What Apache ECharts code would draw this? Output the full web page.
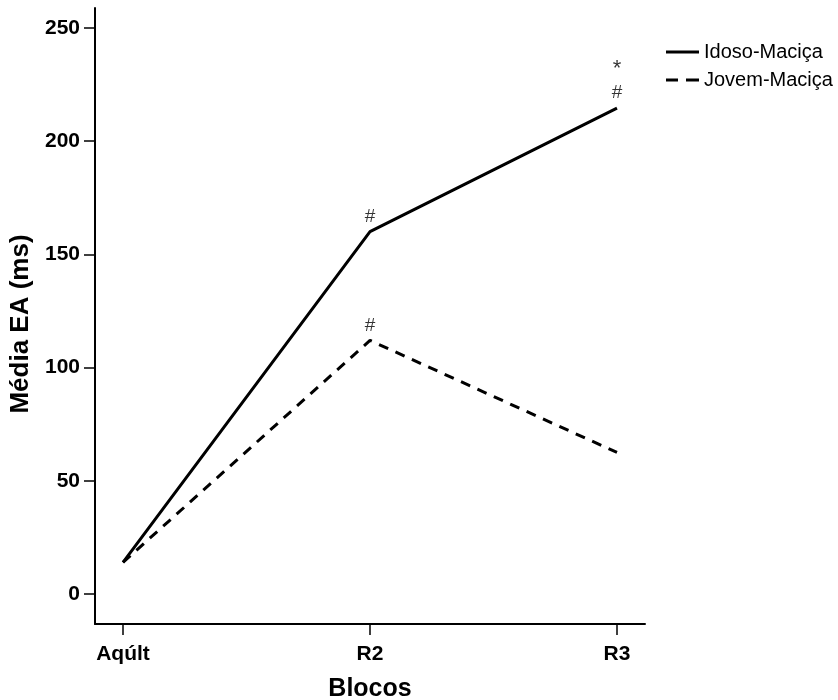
<!DOCTYPE html>
<html><head><meta charset="utf-8">
<script src="https://cdn.jsdelivr.net/npm/echarts@6/dist/echarts.min.js"></script>
<style>html,body{margin:0;padding:0;background:#fff}#c{width:838px;height:700px}</style>
</head><body><div id="c"></div>
<script>
var categories = ['Aqúlt', 'R2', 'R3'];
var seriesNames = ['Idoso-Maciça', 'Jovem-Maciça'];
var idoso = [14, 160, 214.6];
var jovem = [14, 112, 62.5];
// significance marks stacked above each point (bottom to top)
var idosoMarks = [[], ['#'], ['#', '*']];
var jovemMarks = [[], ['#'], []];
var yTicks = [0, 50, 100, 150, 200, 250];
var xTicks = [0, 1, 2];

function pts(vals) {
  return vals.map(function (v, i) { return [i, v]; });
}
function marks(vals, mk) {
  var out = [];
  vals.forEach(function (v, i) {
    mk[i].forEach(function (t, k) {
      out.push({
        value: [i, v],
        label: { show: true, position: 'inside', formatter: t,
          fontSize: t === '*' ? 22 : 19,
          offset: [0, -(15 + 28 * k) + (t === '*' ? 4 : 0)] }
      });
    });
  });
  return out;
}

var font = 'Liberation Sans, Arial, sans-serif';
var chart = echarts.init(document.getElementById('c'));
chart.setOption({
  animation: false,
  backgroundColor: '#fff',
  textStyle: { fontFamily: font },
  legend: {
    orient: 'vertical', left: 661, top: 37, itemWidth: 33, itemHeight: 3, itemGap: 8,
    textStyle: { fontSize: 20, color: '#000', fontFamily: font },
    itemStyle: { color: '#000' },
    data: [
      { name: seriesNames[0], icon: 'path://M0,0L33,0L33,3L0,3Z' },
      { name: seriesNames[1], icon: 'path://M0,0L12,0L12,3L0,3Z M20,0L33,0L33,3L20,3Z' }
    ]
  },
  grid: { left: 95, top: 8, right: 193, bottom: 76, containLabel: false, outerBoundsMode: 'none' },
  xAxis: {
    type: 'value', min: -0.1134, max: 2.1134,
    splitLine: { show: false },
    axisLine: { show: true, onZero: false, lineStyle: { color: '#000', width: 2 } },
    axisTick: { show: true, customValues: xTicks, length: 11, lineStyle: { color: '#000', width: 1.5 } },
    axisLabel: { show: true, customValues: xTicks, margin: 20, fontSize: 21, fontWeight: 'bold', color: '#000', fontFamily: font,
      formatter: function (v) { return categories[Math.round(v)] || ''; } },
    name: 'Blocos', nameLocation: 'middle', nameGap: 53,
    nameTextStyle: { fontSize: 25, fontWeight: 'bold', color: '#000', fontFamily: font }
  },
  yAxis: {
    type: 'value', min: -13.25, max: 258.8,
    splitLine: { show: false },
    axisLine: { show: true, onZero: false, lineStyle: { color: '#000', width: 2 } },
    axisTick: { show: true, customValues: yTicks, length: 11, lineStyle: { color: '#000', width: 1.5 } },
    axisLabel: { show: true, customValues: yTicks, margin: 15, fontSize: 21, fontWeight: 'bold', color: '#000', fontFamily: font },
    name: 'Média EA (ms)', nameLocation: 'middle', nameGap: 43, nameRotate: 90,
    nameTextStyle: { fontSize: 26, fontWeight: 'bold', color: '#000', fontFamily: font, padding: [0, 16, 0, 0] }
  },
  series: [
    {
      name: seriesNames[0], type: 'line', symbol: 'none', data: pts(idoso),
      lineStyle: { color: '#000', width: 3, type: 'solid' }, itemStyle: { color: '#000' }
    },
    {
      name: seriesNames[1], type: 'line', symbol: 'none', data: pts(jovem),
      lineStyle: { color: '#000', width: 3, type: [10, 8] }, itemStyle: { color: '#000' }
    },
    {
      name: 'marks', type: 'scatter', symbol: 'circle', symbolSize: 1,
      itemStyle: { color: 'rgba(0,0,0,0)' }, silent: true, z: 5,
      label: { color: '#000', fontSize: 19, fontFamily: font },
      data: marks(idoso, idosoMarks).concat(marks(jovem, jovemMarks))
    }
  ]
});
</script></body></html>
